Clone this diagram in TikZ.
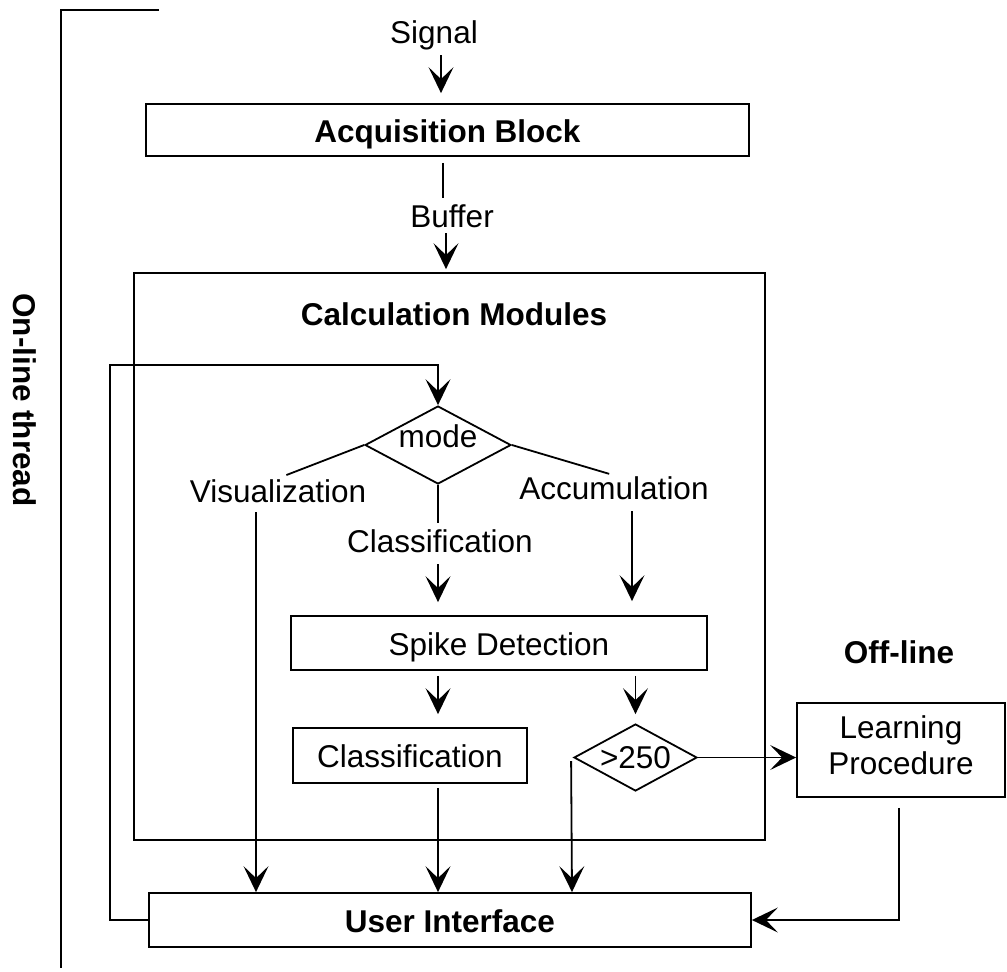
\documentclass[tikz,border=0pt]{standalone}
\usepackage{fontspec}
\setmainfont{Liberation Sans}
\usetikzlibrary{arrows.meta,shapes.geometric}
\begin{document}
\begin{tikzpicture}[x=0.5pt,y=-0.5pt,
  font=\fontsize{15.75}{18}\selectfont,
  line width=0.9pt,
  arr/.style={-{Stealth[length=13pt,width=12.5pt,inset=6pt]}},
  box/.style={draw, rectangle, inner sep=0pt, text height=12.3pt, text depth=0pt},
  dia/.style={draw, diamond, inner sep=0pt, aspect=1.85},
  lbl/.style={inner sep=0pt, anchor=base},
  bold/.style={font=\fontsize{15.75}{18}\selectfont\bfseries}]
\useasboundingbox (0,0) rectangle (1007,971);

% bracket of the on-line thread
\draw (159,10) -- (61,10) -- (61,968);
\node[bold, rotate=-90, inner sep=0pt] (online) at (25,400) {On-line thread};

% nodes
\node[lbl] (sig) at (434,43) {Signal};
\node[box, bold, minimum width=301.5pt, minimum height=26pt] (acq) at (447.5,130) {Acquisition Block};
\node[lbl] (buf) at (452,227) {Buffer};
\node[draw, rectangle, minimum width=315.5pt, minimum height=283.5pt] (calc) at (449.5,556.5) {};
\node[lbl, bold] (calct) at (454,325) {Calculation Modules};
\node[dia, text height=2pt, text depth=0pt, minimum width=73pt, minimum height=39pt] (mode) at (438,445) {mode};
\node[lbl] (vis) at (278,502) {Visualization};
\node[lbl] (acc) at (614,499) {Accumulation};
\node[lbl] (clsl) at (440,552) {Classification};
\node[box, minimum width=208pt, minimum height=27pt] (spike) at (499,643) {Spike Detection};
\node[box, minimum width=117pt, minimum height=27.5pt] (cls) at (410,755.5) {Classification};
\node[dia, minimum width=61.5pt, minimum height=33.5pt] (thr) at (635.5,757.5) {>250};
\node[lbl, bold] (offl) at (899,663) {Off-line};
\node[draw, rectangle, inner sep=0pt, align=center, text depth=5.3pt, minimum width=104pt, minimum height=47pt] (learn) at (901,750) {Learning\\Procedure};
\node[box, bold, minimum width=301pt, minimum height=27pt] (ui) at (450,920) {User Interface};

% connectors
\draw[arr, shorten <=2.5pt, shorten >=5pt] (sig.south -| 441,0) -- (acq.north -| 441,0);
\draw[shorten <=3pt, shorten >=2.5pt] (acq.south -| 443,0) -- (buf.north -| 443,0);
\draw[arr, shorten <=2.5pt, shorten >=1.5pt] (buf.south -| 446,0) -- (calc.north -| 446,0);

\coordinate (fb) at (110,365);
\draw[arr] (ui.west) -| (fb) -| (mode.north);

\draw[shorten >=4.5pt] (mode.west) -- (vis.north);
\draw[shorten >=2.5pt] (mode.east) -- (acc.north);
\draw[shorten >=2.5pt] (mode.south) -- (mode.south |- clsl.north);

\draw[arr, shorten <=5.5pt, shorten >=6.5pt] (clsl.south -| mode.south) -- (spike.north -| mode.south);
\draw[arr, shorten <=5.5pt, shorten >=7pt] (acc.south -| 632,0) -- (spike.north -| 632,0);
\draw[arr, shorten <=4.5pt] (vis.south -| 256,0) -- (ui.north -| 256,0);

\draw[arr, shorten <=2.5pt, shorten >=6.5pt] (spike.south -| mode.south) -- (cls.north -| mode.south);
\draw[arr, shorten <=2.5pt, shorten >=4.5pt] (spike.south -| thr.north) -- (thr.north);

\draw[arr, shorten <=2pt] (cls.south -| mode.south) -- (ui.north -| mode.south);
\draw[arr] ([shift={(-1pt,-1.75pt)}]thr.west) -- (ui.north -| 572,0);

\draw[arr] (thr.east) -- (learn.west |- thr.east);
\draw[arr, shorten <=5pt] (learn.south -| 899,0) |- (ui.east);
\end{tikzpicture}
\end{document}
